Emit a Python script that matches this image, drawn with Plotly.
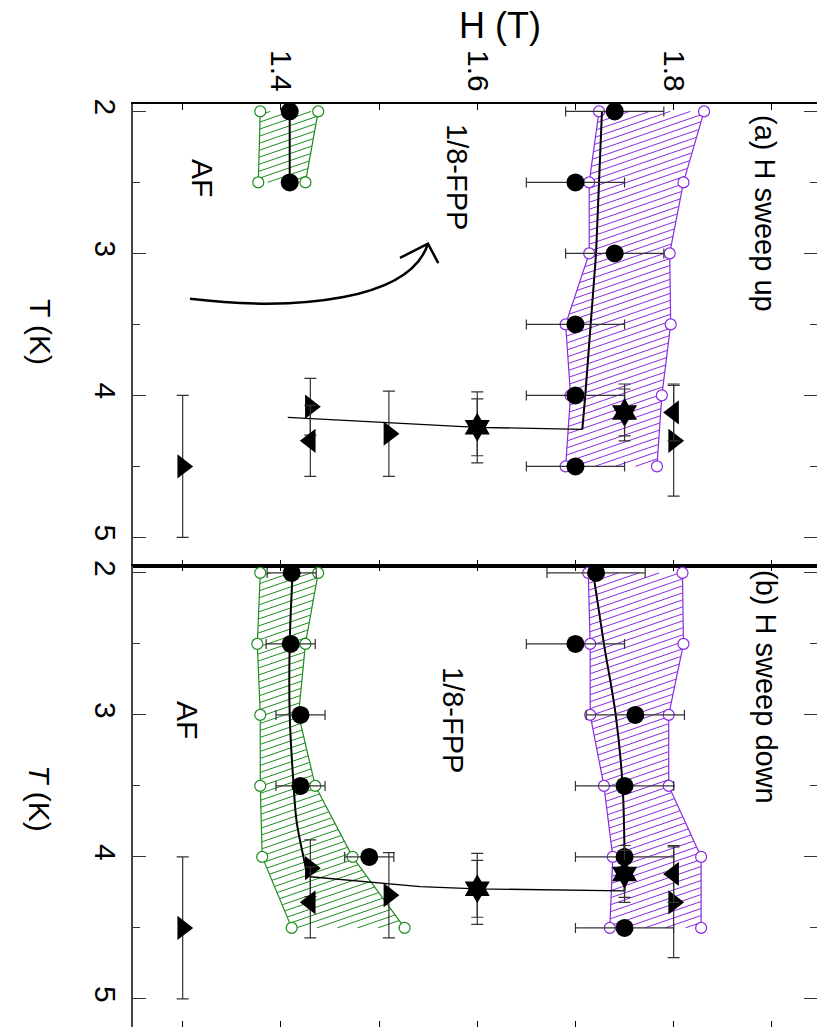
import numpy as np
import plotly.graph_objects as go

# ---------------- data ----------------
T_grid = [2.0, 2.5, 3.0, 3.5, 4.0, 4.5]

# Panel (a): H sweep up
a_fpp_H = [1.740, 1.700, 1.740, 1.700, 1.700, 1.700]
a_fpp_err = [0.05, 0.05, 0.05, 0.05, 0.05, 0.05]
a_fpp_lo = [1.724, 1.714, 1.714, 1.690, 1.695, 1.690]
a_fpp_hi = [1.831, 1.810, 1.796, 1.797, 1.788, 1.783]
a_af_T = [2.0, 2.5]
a_af_H = [1.409, 1.409]
a_af_lo = [1.379, 1.377]
a_af_hi = [1.438, 1.425]
a_fit_T = [2.0, 3.0, 4.0, 4.24]
a_fit_H = [1.727, 1.721, 1.710, 1.707]
a_link_T = [4.24, 4.225, 4.155]
a_link_H = [1.707, 1.600, 1.407]

# Panel (b): H sweep down
b_fpp_H = [1.721, 1.700, 1.761, 1.750, 1.750, 1.750]
b_fpp_err = [0.05, 0.05, 0.05, 0.05, 0.05, 0.05]
b_fpp_lo = [1.713, 1.715, 1.715, 1.729, 1.738, 1.735]
b_fpp_hi = [1.809, 1.810, 1.795, 1.795, 1.828, 1.828]
b_af_T = [2.0, 2.5, 3.0, 3.5, 4.0]
b_af_H = [1.411, 1.410, 1.420, 1.420, 1.490]
b_af_err = [0.025, 0.025, 0.025, 0.025, 0.025]
b_af_lo = [1.379, 1.376, 1.379, 1.379, 1.381, 1.411]
b_af_hi = [1.438, 1.425, 1.418, 1.435, 1.473, 1.526]
b_fit_T = [2.0, 2.5, 3.0, 3.5, 4.0, 4.24]
b_fit_H = [1.718, 1.729, 1.741, 1.748, 1.750, 1.750]
b_link_T = [4.24, 4.225, 4.21, 4.14]
b_link_H = [1.750, 1.600, 1.542, 1.430]
b_afcurve_T = [4.14, 4.09, 4.0, 3.75, 3.5, 3.0, 2.5, 2.0]
b_afcurve_H = [1.430, 1.426, 1.423, 1.416, 1.413, 1.409, 1.409, 1.412]

# Triangles and stars (same in both panels)
tri_r_H = [1.300, 1.430, 1.510, 1.800]
tri_r_T = [4.50, 4.08, 4.27, 4.32]
tri_r_err = [0.50, 0.20, 0.30, 0.39]
tri_l_H = [1.430, 1.800]
tri_l_T = [4.32, 4.12]
tri_l_err = [0.25, 0.20]
star_H = [1.600, 1.750]
star_T = [4.225, 4.12]
star_err_outer = [0.25, 0.20]
star_err_inner = [0.20, 0.165]

# Arrow (panel a), in data coordinates (H, T)
arrow_curve = [(1.3074, 3.319), (1.4195, 3.411), (1.5315, 3.326), (1.5498, 2.932)]
arrow_wings = [(1.5213, 3.032), (1.5603, 3.068)]

H_ticks = [1.4, 1.6, 1.8]
T_ticks = [2, 3, 4, 5]

PURPLE = "#8a2be2"
GREEN = "#1e8c1e"
ERRC = "#333333"
FONT = "Liberation Sans, Arial, Helvetica, sans-serif"
FS = 30

# plot-area geometry
W, HGT = 817, 1027
ML, MT = 133, 104
x_range = [1.2494, 1.946]
y_range = [5.198, 1.948]
PX_PER_H = (W - ML) / (x_range[1] - x_range[0])
PX_PER_T = ((HGT - MT) / 2) / (y_range[0] - y_range[1])

fig = go.Figure()


def hatch_segments(lo, hi, T, spacing=7.0, angle_deg=19.0):
    lo = np.asarray(lo, float); hi = np.asarray(hi, float); T = np.asarray(T, float)
    k = np.tan(np.radians(angle_deg))
    X = np.arange(lo.min() * PX_PER_H - 2, hi.max() * PX_PER_H + 2, 0.25)
    vx = np.concatenate([lo, hi]) * PX_PER_H
    vy = np.concatenate([T, T]) * PX_PER_T
    cvals = vy + k * vx
    xs, ys = [], []
    for c in np.arange(cvals.min() + spacing / 2, cvals.max(), spacing):
        Y = c - k * X
        Tt = Y / PX_PER_T
        Hh = X / PX_PER_H
        inside = (Tt >= T[0]) & (Tt <= T[-1])
        l = np.interp(Tt, T, lo)
        h = np.interp(Tt, T, hi)
        inside &= (Hh >= l) & (Hh <= h)
        idx = np.flatnonzero(inside)
        if idx.size < 2:
            continue
        breaks = np.flatnonzero(np.diff(idx) > 1)
        starts = np.concatenate([[idx[0]], idx[breaks + 1]])
        ends = np.concatenate([idx[breaks], [idx[-1]]])
        for s, e in zip(starts, ends):
            if e > s:
                xs += [Hh[s], Hh[e], None]
                ys += [Tt[s], Tt[e], None]
    return xs, ys


def band(lo, hi, T, color, xa, ya):
    hx, hy = hatch_segments(lo, hi, T)
    fig.add_trace(go.Scatter(x=hx, y=hy, mode="lines", line=dict(color=color, width=1),
                             xaxis=xa, yaxis=ya, showlegend=False, hoverinfo="skip"))
    for side in (lo, hi):
        fig.add_trace(go.Scatter(
            x=side, y=T, mode="lines+markers",
            line=dict(color=color, width=1.2),
            marker=dict(symbol="circle", size=11, color="white",
                        line=dict(color=color, width=1.2)),
            xaxis=xa, yaxis=ya, showlegend=False))


def line(H, T, xa, ya, width=2, shape="linear"):
    fig.add_trace(go.Scatter(x=H, y=T, mode="lines",
                             line=dict(color="black", width=width, shape=shape, smoothing=1),
                             xaxis=xa, yaxis=ya, showlegend=False))


def circles(H, T, err, xa, ya):
    ex = dict(type="data", array=err, color=ERRC, thickness=1.2, width=5, visible=True) if err else None
    fig.add_trace(go.Scatter(x=H, y=T, mode="markers",
                             marker=dict(symbol="circle", size=18, color="black"),
                             error_x=ex, xaxis=xa, yaxis=ya, showlegend=False))


def triangles_and_stars(xa, ya):
    fig.add_trace(go.Scatter(x=star_H, y=star_T, mode="markers",
                             marker=dict(size=1, color="rgba(0,0,0,0)"),
                             error_y=dict(type="data", array=star_err_inner, color=ERRC,
                                          thickness=1.2, width=6),
                             xaxis=xa, yaxis=ya, showlegend=False))
    fig.add_trace(go.Scatter(x=tri_r_H, y=tri_r_T, mode="markers",
                             marker=dict(symbol="triangle-right", size=21, color="black"),
                             error_y=dict(type="data", array=tri_r_err, color=ERRC,
                                          thickness=1.2, width=6),
                             xaxis=xa, yaxis=ya, showlegend=False))
    fig.add_trace(go.Scatter(x=tri_l_H, y=tri_l_T, mode="markers",
                             marker=dict(symbol="triangle-left", size=21, color="black"),
                             error_y=dict(type="data", array=tri_l_err, color=ERRC,
                                          thickness=1.2, width=6),
                             xaxis=xa, yaxis=ya, showlegend=False))
    fig.add_trace(go.Scatter(x=star_H, y=star_T, mode="markers",
                             marker=dict(symbol="hexagram", size=22, color="black"),
                             error_y=dict(type="data", array=star_err_outer, color=ERRC,
                                          thickness=1.2, width=6),
                             xaxis=xa, yaxis=ya, showlegend=False))


# ---- panel (a) ----
band(a_fpp_lo, a_fpp_hi, T_grid, PURPLE, "x", "y")
band(a_af_lo, a_af_hi, a_af_T, GREEN, "x", "y")
line(a_fit_H, a_fit_T, "x", "y", 2)
line(a_link_H, a_link_T, "x", "y", 1.3)
line(a_af_H, a_af_T, "x", "y", 2)
circles(a_fpp_H, T_grid, a_fpp_err, "x", "y")
circles(a_af_H, a_af_T, None, "x", "y")
triangles_and_stars("x", "y")

# ---- panel (b) ----
band(b_fpp_lo, b_fpp_hi, T_grid, PURPLE, "x2", "y2")
band(b_af_lo, b_af_hi, T_grid, GREEN, "x2", "y2")
line(b_fit_H, b_fit_T, "x2", "y2", 2, "spline")
line(b_link_H, b_link_T, "x2", "y2", 1.3)
line(b_afcurve_H, b_afcurve_T, "x2", "y2", 2, "spline")
circles(b_fpp_H, T_grid, b_fpp_err, "x2", "y2")
circles(b_af_H, b_af_T, b_af_err, "x2", "y2")
triangles_and_stars("x2", "y2")

# ---- arrow shape (panel a) ----
p0, c1, c2, p3 = arrow_curve
path = (f"M {p0[0]},{p0[1]} C {c1[0]},{c1[1]} {c2[0]},{c2[1]} {p3[0]},{p3[1]} "
        f"M {arrow_wings[0][0]},{arrow_wings[0][1]} L {p3[0]},{p3[1]} "
        f"L {arrow_wings[1][0]},{arrow_wings[1][1]}")
fig.add_shape(type="path", path=path, xref="x", yref="y",
              line=dict(color="black", width=2.5))

xcommon = dict(range=x_range, tickvals=H_ticks, ticktext=[f"{v:.1f}" for v in H_ticks],
               ticks="inside", ticklen=6, tickwidth=1, tickcolor="black",
               minor=dict(ticks="inside", ticklen=6, dtick=0.1, tick0=1.3,
                          tickcolor="black", tickwidth=1),
               showline=True, linecolor="black", linewidth=1.5, mirror="ticks",
               showgrid=False, zeroline=False, tickangle=90, automargin=False,
               tickfont=dict(family=FONT, size=FS, color="black"))
ycommon = dict(range=y_range, tickvals=T_ticks, ticks="inside", ticklen=13, tickwidth=1.2,
               tickcolor="#333",
               minor=dict(ticks="inside", ticklen=7, dtick=0.5, tick0=2,
                          tickcolor="#333", tickwidth=1.2),
               showline=True, linecolor="#444", linewidth=2, mirror="ticks",
               showgrid=False, zeroline=False, tickangle=90, automargin=False,
               tickfont=dict(family=FONT, size=FS, color="black"))

fig.update_layout(
    width=W, height=HGT,
    margin=dict(l=ML, r=0, t=MT, b=0, autoexpand=False),
    paper_bgcolor="white", plot_bgcolor="white",
    xaxis=dict(domain=[0, 1], anchor="y", side="top", **xcommon),
    yaxis=dict(domain=[0.5, 1], anchor="x", **ycommon),
    xaxis2=dict(domain=[0, 1], anchor="y2", side="bottom", showticklabels=False,
                **{k: v for k, v in xcommon.items() if k not in ("tickfont",)}),
    yaxis2=dict(domain=[0, 0.5], anchor="x2", **ycommon),
    showlegend=False,
)

annotations = [
    dict(text="H (T)", x=500, y=25, textangle=0, size=36),
    dict(text="T (K)", x=40, y=332, textangle=90, size=FS),
    dict(text="<i>T</i> (K)", x=40, y=798, textangle=90, size=FS),
    dict(text="(a) H sweep up", x=765, y=213, textangle=90, size=29),
    dict(text="1/8-FPP", x=457, y=177, textangle=90, size=29),
    dict(text="AF", x=202, y=178, textangle=90, size=FS),
    dict(text="(b) H sweep down", x=766, y=687, textangle=90, size=29),
    dict(text="1/8-FPP", x=453, y=720, textangle=90, size=29),
    dict(text="AF", x=187, y=720, textangle=90, size=FS),
]
for a in annotations:
    fig.add_annotation(text=a["text"],
                       x=(a["x"] - ML) / (W - ML), y=(HGT - a["y"]) / (HGT - MT),
                       xref="paper", yref="paper", xanchor="center", yanchor="middle",
                       showarrow=False, textangle=a["textangle"],
                       font=dict(family=FONT, size=a["size"], color="black"))

fig.write_html("out.html",
               config={"displayModeBar": False},
               post_script="document.body.style.margin='0';document.body.style.overflow='hidden';")
